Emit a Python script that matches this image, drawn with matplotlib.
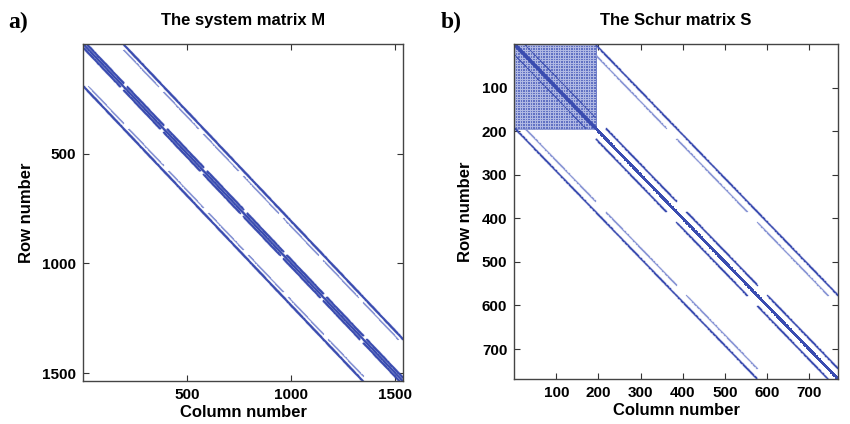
import numpy as np
import matplotlib
matplotlib.use('Agg')
import matplotlib.pyplot as plt

# Sparsity structure (block size, diagonal offsets)
block_size = 192
m_blocks = 8                 # M is 1536 x 1536
s_blocks = 4                 # S is 768 x 768
m_band_offsets = [-16, 0, 16]
s_band_offsets = [-24, 24]
s_center_offsets = [-1, 0, 1]
coupling_strong = 192        # full coupling diagonal
coupling_weak = 168          # shorter diagonal inside coupling blocks
dense_skip = 6               # lighter rows/cols in the dense block of S

m_ticks = [500, 1000, 1500]
s_ticks = [100, 200, 300, 400, 500, 600, 700]

blue = '#3a4cb0'
light_blue = '#8c98d6'


def diag(r0, r1, c0, c1, off):
    r = np.arange(r0, r1)
    c = r + off
    keep = (c >= c0) & (c < c1)
    return r[keep], c[keep]


def cat(lst):
    return (np.concatenate([x[0] for x in lst]), np.concatenate([x[1] for x in lst]))


def band(first, last, offsets):
    B = block_size
    out = []
    for b in range(first, last):
        for off in offsets:
            out.append(diag(b * B, (b + 1) * B, b * B, (b + 1) * B, off))
    return cat(out)


def coupling(n_blocks):
    B = block_size
    strong, weak = [], []
    for b in range(n_blocks - 1):
        # upper coupling block (b, b+1)
        strong.append(diag(b * B, (b + 1) * B, (b + 1) * B, (b + 2) * B, coupling_strong))
        weak.append(diag(b * B, (b + 1) * B, (b + 1) * B, (b + 2) * B, coupling_weak))
        # lower coupling block (b+1, b)
        strong.append(diag((b + 1) * B, (b + 2) * B, b * B, (b + 1) * B, -coupling_strong))
        weak.append(diag((b + 1) * B, (b + 2) * B, b * B, (b + 1) * B, -coupling_weak))
    return cat(strong), cat(weak)


def style_axes(ax, n, ticks):
    ax.set_xlim(0, n + 1)
    ax.set_ylim(n + 1, 0)
    ax.set_xticks(ticks)
    ax.set_yticks(ticks)
    ax.tick_params(direction='in', top=True, right=True, length=4, width=0.8,
                   labelsize=11, color='#333333', pad=5)
    for lab in ax.get_xticklabels() + ax.get_yticklabels():
        lab.set_fontweight('bold')
    for sp in ax.spines.values():
        sp.set_color('#444444')
        sp.set_linewidth(1.0)
    ax.set_xlabel('Column number', fontsize=12, fontweight='bold', labelpad=2)
    ax.set_ylabel('Row number', fontsize=12, fontweight='bold', labelpad=6)


plt.rcParams['font.family'] = ['Liberation Sans', 'DejaVu Sans']

fig = plt.figure(figsize=(8.5, 4.24), dpi=100)
ax1 = fig.add_axes([0.098, 0.101, 0.376, 0.795])
ax2 = fig.add_axes([0.605, 0.106, 0.381, 0.790])

# a) system matrix M
n_m = m_blocks * block_size
br, bc = band(0, m_blocks, m_band_offsets)
(sr, sc), (wr, wc) = coupling(m_blocks)
ax1.plot(wc + 1, wr + 1, 's', color=light_blue, ms=0.8, mew=0)
ax1.plot(sc + 1, sr + 1, 's', color=blue, ms=1.0, mew=0)
ax1.plot(bc + 1, br + 1, 's', color=blue, ms=1.0, mew=0)
style_axes(ax1, n_m, m_ticks)
ax1.set_title('The system matrix M', fontsize=12, fontweight='bold', pad=14)

# b) Schur matrix S
n_s = s_blocks * block_size
idx = np.arange(block_size)
dr, dc = np.meshgrid(idx, idx, indexing='ij')
dr, dc = dr.ravel(), dc.ravel()
gap = (dr % dense_skip == 0) | (dc % dense_skip == 0)
ax2.plot(dc + 1, dr + 1, 's', color='#6272c3', ms=1.1, mew=0)
ax2.plot(dc[gap] + 1, dr[gap] + 1, 's', color='#b4bce6', ms=0.5, mew=0)
r0, c0 = band(0, 1, s_band_offsets)
ax2.plot(c0 + 1, r0 + 1, 's', color='#4a5bb6', ms=0.8, mew=0)
r0, c0 = band(0, 1, s_center_offsets)
ax2.plot(c0 + 1, r0 + 1, 's', color=blue, ms=1.4, mew=0)
(sr, sc), (wr, wc) = coupling(s_blocks)
ax2.plot(wc + 1, wr + 1, 's', color=light_blue, ms=0.9, mew=0)
ax2.plot(sc + 1, sr + 1, 's', color=blue, ms=1.0, mew=0)
br, bc = band(1, s_blocks, s_band_offsets)
ax2.plot(bc + 1, br + 1, 's', color=blue, ms=1.0, mew=0)
cr, cc = band(1, s_blocks, s_center_offsets)
ax2.plot(cc + 1, cr + 1, 's', color=blue, ms=1.6, mew=0)
style_axes(ax2, n_s, s_ticks)
ax2.set_title('The Schur matrix S', fontsize=12, fontweight='bold', pad=14)

fig.text(0.01, 0.935, 'a)', fontsize=17, fontweight='bold', family='Liberation Serif')
fig.text(0.518, 0.935, 'b)', fontsize=17, fontweight='bold', family='Liberation Serif')

fig.savefig('out.png', dpi=100)
